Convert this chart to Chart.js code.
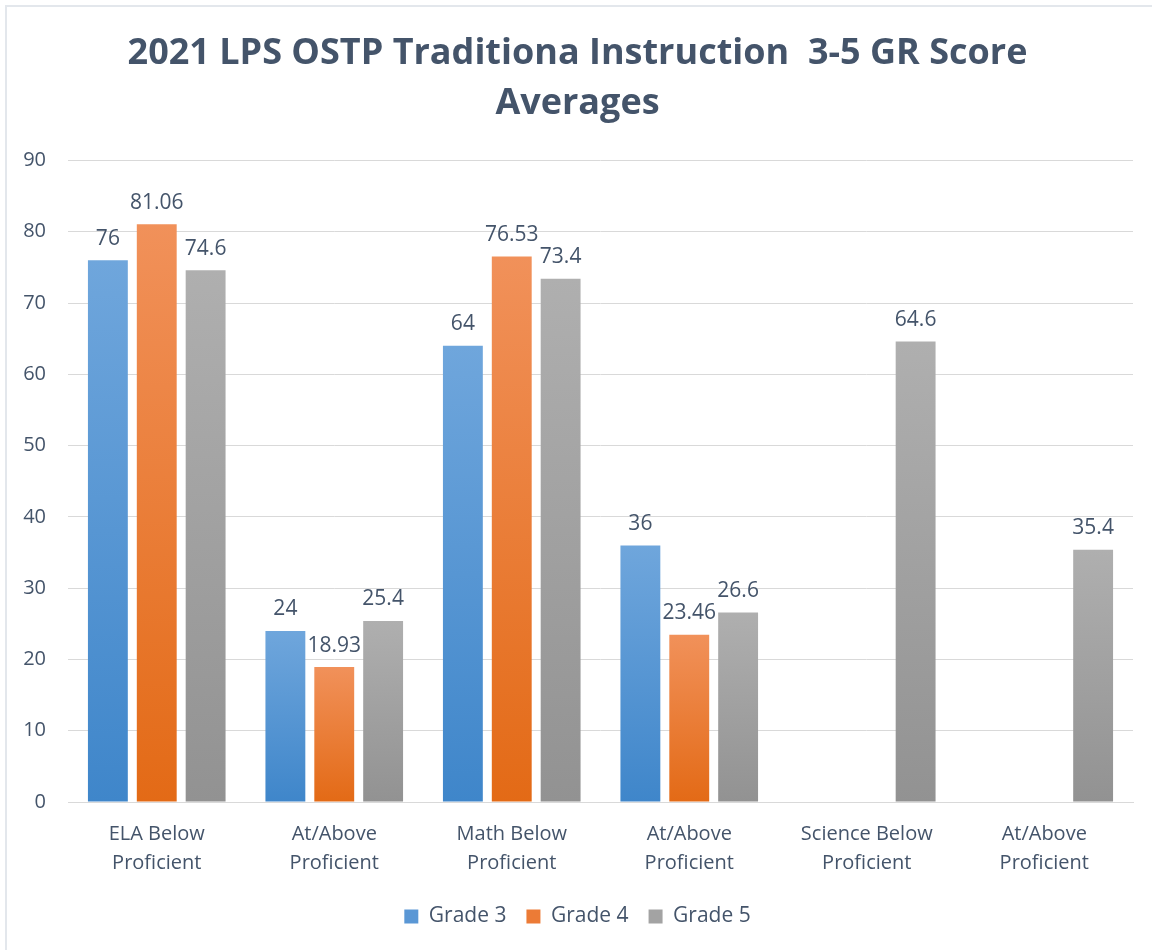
<!DOCTYPE html>
<html>
<head>
<meta charset="utf-8">
<title>2021 LPS OSTP Score Averages</title>
<script src="https://cdn.jsdelivr.net/npm/chart.js"></script>
<style>
  html, body { margin: 0; padding: 0; background: #fff; }
  .frame {
    position: absolute; left: 5px; top: 5px; width: 1147px; height: 945px;
    border-left: 2px solid #E3E7EC; border-top: 2px solid #E3E7EC;
    box-sizing: border-box;
  }
  canvas { position: absolute; left: 0; top: 0; }
</style>
</head>
<body>
<div class="frame"></div>
<canvas id="chart" width="1152" height="950"></canvas>
<script>
const categories = [
  ['ELA Below', 'Proficient'],
  ['At/Above', 'Proficient'],
  ['Math Below', 'Proficient'],
  ['At/Above', 'Proficient'],
  ['Science Below', 'Proficient'],
  ['At/Above', 'Proficient']
];
const grade3 = [76, 24, 64, 36, null, null];
const grade4 = [81.06, 18.93, 76.53, 23.46, null, null];
const grade5 = [74.6, 25.4, 73.4, 26.6, 64.6, 35.4];
const yTicks = [0, 10, 20, 30, 40, 50, 60, 70, 80, 90];

const textColor = '#44546A';
const fontFamily = "'Open Sans', 'Noto Sans', sans-serif";

// top colour, bottom colour, legend colour
const shades = {
  g3: ['#6FA6DC', '#3F86CA', '#5A97D5'],
  g4: ['#F1915A', '#E36A16', '#EC7B36'],
  g5: ['#AFAFAF', '#929292', '#A3A3A3']
};

function barFill(key) {
  return function (ctx) {
    const chart = ctx.chart;
    if (!chart.chartArea || ctx.type !== 'data' || ctx.parsed == null || ctx.parsed.y == null) {
      return shades[key][2];
    }
    const y = chart.scales.y;
    const top = y.getPixelForValue(ctx.parsed.y);
    const base = y.getPixelForValue(0);
    const g = chart.ctx.createLinearGradient(0, top, 0, base);
    g.addColorStop(0, shades[key][0]);
    g.addColorStop(1, shades[key][1]);
    return g;
  };
}

const valueLabels = {
  id: 'valueLabels',
  afterDatasetsDraw(chart) {
    const c = chart.ctx;
    c.save();
    c.font = '21px ' + fontFamily;
    c.fillStyle = textColor;
    c.textAlign = 'center';
    c.textBaseline = 'bottom';
    chart.data.datasets.forEach((ds, i) => {
      const meta = chart.getDatasetMeta(i);
      meta.data.forEach((bar, j) => {
        const v = ds.data[j];
        if (v == null) return;
        c.fillText(String(v), bar.x, bar.y - 11);
      });
    });
    c.restore();
  }
};

new Chart(document.getElementById('chart'), {
  type: 'bar',
  data: {
    labels: categories,
    datasets: [
      { label: 'Grade 3', data: grade3, backgroundColor: barFill('g3') },
      { label: 'Grade 4', data: grade4, backgroundColor: barFill('g4') },
      { label: 'Grade 5', data: grade5, backgroundColor: barFill('g5') }
    ]
  },
  options: {
    responsive: false,
    animation: false,
    devicePixelRatio: 1,
    categoryPercentage: 0.826,
    barPercentage: 0.816,
    layout: { padding: { left: 22, right: 19, top: 28, bottom: 13 } },
    plugins: {
      title: {
        display: true,
        text: ['2021 LPS OSTP Traditiona Instruction  3-5 GR Score', 'Averages'],
        color: textColor,
        font: { family: fontFamily, size: 36, weight: 'bold', lineHeight: 1.41 },
        padding: { top: 0, bottom: 31 }
      },
      legend: {
        position: 'bottom',
        labels: {
          color: textColor,
          font: { family: fontFamily, size: 21 },
          boxWidth: 14,
          boxHeight: 14,
          padding: 20,
          generateLabels(chart) {
            const keys = ['g3', 'g4', 'g5'];
            return chart.data.datasets.map((ds, i) => ({
              text: ds.label,
              fillStyle: shades[keys[i]][2],
              strokeStyle: shades[keys[i]][2],
              lineWidth: 0,
              fontColor: textColor,
              datasetIndex: i
            }));
          }
        }
      },
      tooltip: { enabled: false }
    },
    scales: {
      x: {
        grid: { display: false },
        border: { color: '#D9D9D9', width: 1 },
        ticks: {
          color: textColor,
          font: { family: fontFamily, size: 20, lineHeight: 1.45 },
          padding: 10,
          maxRotation: 0
        },
        afterFit(scale) { scale.height = 84; }
      },
      y: {
        min: 0,
        max: 90,
        afterBuildTicks(scale) { scale.ticks = yTicks.map(v => ({ value: v })); },
        grid: { color: '#D9D9D9', lineWidth: 1, drawTicks: false },
        border: { display: false },
        ticks: {
          color: textColor,
          font: { family: fontFamily, size: 20 },
          padding: 22
        },
        afterFit(scale) { scale.width = 46; }
      }
    }
  },
  plugins: [valueLabels]
});
</script>
</body>
</html>
